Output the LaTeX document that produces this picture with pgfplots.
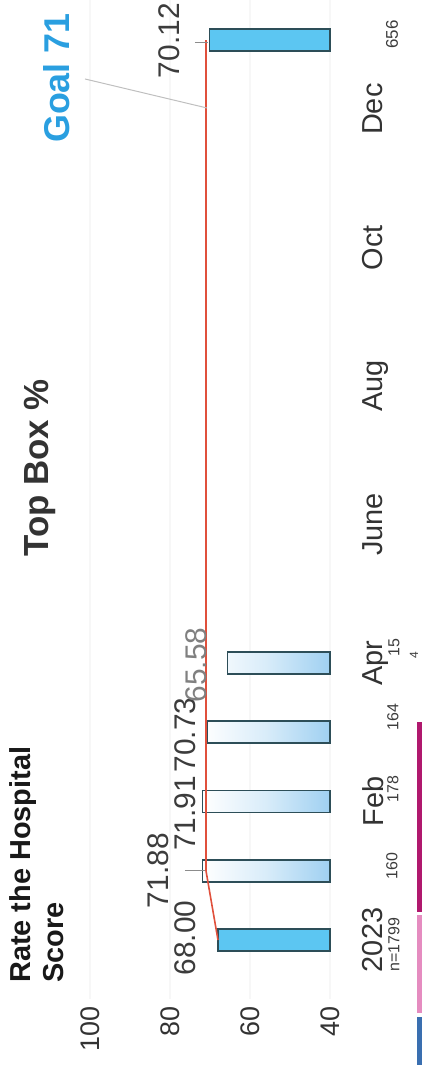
\documentclass[border=0pt]{standalone}
\usepackage{pgfplots}
\pgfplotsset{compat=1.18}
\usepackage{pgfplotstable}
\usepackage{fontspec}
\setmainfont{Liberation Sans}

\definecolor{barblue}{HTML}{5CC6F2}
\definecolor{barline}{HTML}{2D4E58}
\definecolor{gradblue}{HTML}{9FD0F1}
\definecolor{goalred}{HTML}{E0503C}
\definecolor{goalblue}{HTML}{2A9FE0}
\definecolor{txt}{HTML}{333333}
\definecolor{lab}{HTML}{3C3C3C}
\definecolor{stripblue}{HTML}{3A6FB0}
\definecolor{strippink}{HTML}{E58CC0}
\definecolor{stripmag}{HTML}{B0186E}

% k = category index (0 = 2023, 1 = Jan, ..., 12 = Dec, 13 = YTD bar)
\pgfplotstableread{
k v
0 68.00
13 70.12
}\solidbars
\pgfplotstableread{
k v
1 71.88
2 71.91
3 70.73
4 65.58
}\gradbars
\pgfplotstableread{
k g
0 68
1 71
2 71
3 71
4 71
5 71
6 71
7 71
8 71
9 71
10 71
11 71
12 71
13 71
}\goal

\begin{document}
\begin{tikzpicture}
\begin{axis}[
  scale only axis, width=244bp, height=999bp,
  x dir=reverse, xmin=0, xmax=61,
  ymin=-0.85, ymax=13.58,
  clip=false,
  axis line style={draw=none}, tick style={draw=none},
  xtick={0,20,40,60}, xticklabels={40,60,80,100},
  xticklabel style={rotate=90, anchor=east, inner sep=0pt, text=txt, font=\fontsize{27}{27}\selectfont},
  xticklabel shift=8bp,
  ytick={0,2,4,6,8,10,12}, yticklabels={2023,Feb,Apr,June,Aug,Oct,Dec},
  yticklabel pos=right,
  yticklabel style={rotate=90, anchor=north, inner sep=0pt, text=txt, font=\fontsize{29}{29}\selectfont},
  yticklabel shift=32bp,
  xmajorgrids, grid style={black!3, line width=1.5bp},
]
\addplot[xbar, bar width=22bp, bar shift=0pt, fill=barblue, draw=barline, line width=1.6bp]
  table[x expr=\thisrow{v}-40, y=k] {\solidbars};
\addplot[xbar, bar width=22bp, bar shift=0pt, left color=white, right color=gradblue, middle color=white!60!gradblue, draw=barline, line width=1.6bp]
  table[x expr=\thisrow{v}-40, y=k] {\gradbars};
\addplot[goalred, line width=1.6bp, no marks] table[x expr=\thisrow{g}-40, y=k] {\goal};

% data labels
\node[rotate=90, text=lab, font=\fontsize{30}{30}\selectfont, inner sep=0pt] at (axis cs:36.25,0.03) {68.00};
\node[rotate=90, text=lab, font=\fontsize{30}{30}\selectfont, inner sep=0pt] at (axis cs:42.9,1.0) {71.88};
\node[rotate=90, text=lab, font=\fontsize{30}{30}\selectfont, inner sep=0pt] at (axis cs:36.25,1.83) {71.91};
\node[rotate=90, text=lab, font=\fontsize{30}{30}\selectfont, inner sep=0pt] at (axis cs:36.25,2.96) {70.73};
\node[rotate=90, text=black!50, font=\fontsize{30}{30}\selectfont, inner sep=0pt] at (axis cs:33.5,3.97) {65.58};
\node[rotate=90, text=lab, font=\fontsize{30}{30}\selectfont, inner sep=0pt] at (axis cs:40.1,12.99) {70.12};
\draw[black!45, line width=0.8bp] (axis cs:36.25,1.01) -- (axis cs:31.25,1.01);
\draw[black!45, line width=0.8bp] (axis cs:33.75,12.97) -- (axis cs:30.5,12.97);

% goal annotation
\draw[black!25, line width=1bp] (axis cs:61.25,12.437) -- (axis cs:30.75,12.018);
\node[rotate=90, text=goalblue, font=\bfseries\fontsize{36}{36}\selectfont, inner sep=0pt] at (axis cs:68.4,12.45) {Goal 71};

% titles
\node[rotate=90, text=txt, font=\bfseries\fontsize{35}{35}\selectfont, inner sep=0pt] at (axis cs:72.4,6.82) {Top Box \%};
\node[rotate=90, anchor=north west, align=left, inner sep=0pt, text=black!90, font=\bfseries\fontsize{29}{34}\selectfont] at (axis cs:80.25,-0.62) {Rate the Hospital\\Score};

% n labels
\node[rotate=90, text=lab, font=\fontsize{16}{16}\selectfont, inner sep=0pt] at (axis cs:-16,-0.07) {n=1799};
\node[rotate=90, text=lab, font=\fontsize{16}{16}\selectfont, inner sep=0pt] at (axis cs:-15.5,1.07) {160};
\node[rotate=90, text=lab, font=\fontsize{16}{16}\selectfont, inner sep=0pt] at (axis cs:-15.75,2.18) {178};
\node[rotate=90, text=lab, font=\fontsize{16}{16}\selectfont, inner sep=0pt] at (axis cs:-15.75,3.22) {164};
\node[rotate=90, text=lab, font=\fontsize{16}{16}\selectfont, inner sep=0pt] at (axis cs:-16,4.22) {15};
\node[rotate=90, text=lab, font=\fontsize{12}{12}\selectfont, inner sep=0pt] at (axis cs:-21,4.12) {4};
\node[rotate=90, text=lab, font=\fontsize{17}{17}\selectfont, inner sep=0pt] at (axis cs:-15.5,13.08) {656};

% colour strips at the right edge
\fill[stripblue] (axis cs:-21.75,-1.112) rectangle (axis cs:-23,-1.806);
\fill[strippink] (axis cs:-21.75,0.361) rectangle (axis cs:-23,-1.054);
\fill[stripmag] (axis cs:-21.75,3.149) rectangle (axis cs:-23,0.404);

\coordinate (BL) at (axis cs:82.5,-1.806);
\coordinate (TR) at (axis cs:-23,13.578);
\end{axis}
\pgfresetboundingbox
\path[use as bounding box] (BL) rectangle (TR);
\end{tikzpicture}
\end{document}
